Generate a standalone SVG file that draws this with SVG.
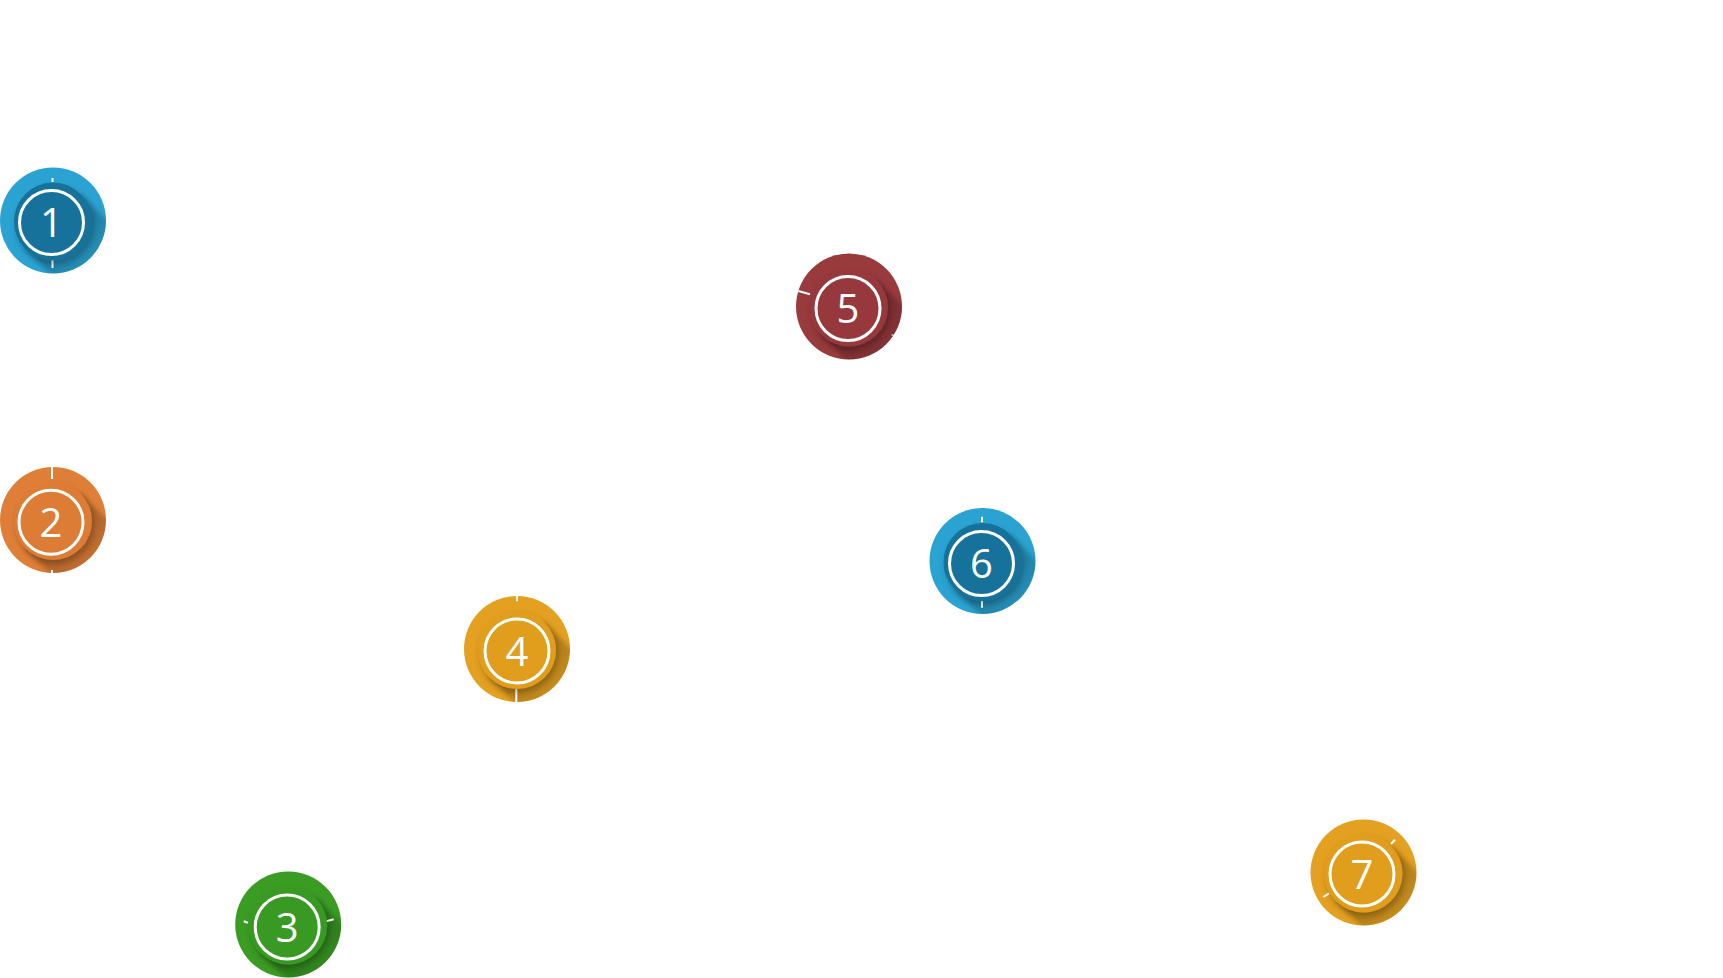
<svg xmlns="http://www.w3.org/2000/svg" width="1723" height="978" viewBox="0 0 1723 978">
<defs>
<style>
.o{stroke:none}
.blue .o{fill:#2aa3d2}.blue .d{fill:#13729b}
.orange .o{fill:#df7f37}.orange .d{fill:#dd7c34}
.green .o{fill:#3a9c23}.green .d{fill:#389a21}
.gold .o{fill:#e3a021}.gold .d{fill:#e19d1f}
.red .o{fill:#993a3d}.red .d{fill:#97393c}
.ring{fill:none;stroke:#fff;stroke-width:3}
.tick{stroke:#fff;stroke-width:2;stroke-linecap:butt}
.num{fill:#fff;font-family:"Open Sans","Liberation Sans",sans-serif;font-weight:400;font-size:40px;text-anchor:middle}
</style>
<clipPath id="clip"><circle cx="0" cy="0" r="53"/></clipPath>
<linearGradient id="ls" x1="0" y1="0" x2="1" y2="1">
<stop offset="0.24" stop-color="#000" stop-opacity="0.3"/>
<stop offset="0.8" stop-color="#000" stop-opacity="0"/>
</linearGradient>
<filter id="blur" x="-20%" y="-20%" width="140%" height="140%"><feGaussianBlur stdDeviation="2.5"/></filter>
<filter id="ds" x="-30%" y="-30%" width="170%" height="170%"><feDropShadow dx="2" dy="4" stdDeviation="3" flood-color="#000" flood-opacity="0.25"/></filter>
<path id="lsp" d="M27.6,-26.6 L87.6,33.4 L32.4,88.6 L-27.6,28.6 Z"/>
</defs>
<rect width="1723" height="978" fill="#fff"/>
<g id="connectors"/>

<g id="node-1" class="blue" transform="translate(53,220.5)">
<circle class="o" r="53"/>
<g clip-path="url(#clip)"><use href="#lsp" fill="url(#ls)" filter="url(#blur)"/></g>
<line class="tick" x1="-0.5" y1="-42.5" x2="-0.5" y2="-38.5"/>
<line class="tick" x1="-0.5" y1="39.5" x2="-0.5" y2="47.5"/>
<circle class="d" cx="0" cy="1" r="39" filter="url(#ds)"/>
<circle class="ring" cx="-1.5" cy="2" r="32"/>
<text class="num" x="-1.5" y="16.5">1</text>
</g>

<g id="node-2" class="orange" transform="translate(53,520)">
<circle class="o" r="53"/>
<g clip-path="url(#clip)"><use href="#lsp" fill="url(#ls)" filter="url(#blur)"/></g>
<line class="tick" x1="-1" y1="-53.5" x2="-1" y2="-41"/>
<line class="tick" x1="-1" y1="50" x2="-1" y2="54"/>
<circle class="d" cx="0" cy="1" r="39" filter="url(#ds)"/>
<circle class="ring" cx="-2" cy="2.2" r="32"/>
<text class="num" x="-2" y="16.7">2</text>
</g>

<g id="node-3" class="green" transform="translate(288.2,924.5)">
<circle class="o" r="53"/>
<g clip-path="url(#clip)"><use href="#lsp" fill="url(#ls)" filter="url(#blur)"/></g>
<line class="tick" x1="-44.5" y1="-3.3" x2="-40.2" y2="-1.7"/>
<line class="tick" x1="38.1" y1="-3.3" x2="45.5" y2="-5.3"/>
<circle class="d" cx="0" cy="1" r="39" filter="url(#ds)"/>
<circle class="ring" cx="-1" cy="2.5" r="32"/>
<text class="num" x="-1" y="17">3</text>
</g>

<g id="node-4" class="gold" transform="translate(517,649)">
<circle class="o" r="53"/>
<g clip-path="url(#clip)"><use href="#lsp" fill="url(#ls)" filter="url(#blur)"/></g>
<line class="tick" x1="0" y1="-53.5" x2="0" y2="-47.7"/>
<line class="tick" x1="-0.7" y1="39.7" x2="-0.7" y2="53.5"/>
<circle class="d" cx="0" cy="1" r="39" filter="url(#ds)"/>
<circle class="ring" cx="0" cy="2" r="32"/>
<text class="num" x="0" y="16.5">4</text>
</g>

<g id="node-5" class="red" transform="translate(849,306.5)">
<circle class="o" r="53"/>
<g clip-path="url(#clip)"><use href="#lsp" fill="url(#ls)" filter="url(#blur)"/></g>
<line class="tick" x1="-50.7" y1="-15.5" x2="-39" y2="-12.2"/>
<line class="tick" x1="42.7" y1="28" x2="46" y2="30" opacity="0.6"/>
<circle class="d" cx="0" cy="1" r="39" filter="url(#ds)"/>
<circle class="ring" cx="-1" cy="2" r="32"/>
<text class="num" x="-1" y="16.5">5</text>
</g>

<g id="node-6" class="blue" transform="translate(982.5,561)">
<circle class="o" r="53"/>
<g clip-path="url(#clip)"><use href="#lsp" fill="url(#ls)" filter="url(#blur)"/></g>
<line class="tick" x1="-0.5" y1="-44.3" x2="-0.5" y2="-38.7"/>
<line class="tick" x1="-0.5" y1="40" x2="-0.5" y2="46.7"/>
<circle class="d" cx="0" cy="1" r="39" filter="url(#ds)"/>
<circle class="ring" cx="-1" cy="2.5" r="32"/>
<text class="num" x="-1" y="17">6</text>
</g>

<g id="node-7" class="gold" transform="translate(1363.5,872.5)">
<circle class="o" r="53"/>
<g clip-path="url(#clip)"><use href="#lsp" fill="url(#ls)" filter="url(#blur)"/></g>
<line class="tick" x1="27.5" y1="-28.5" x2="31.5" y2="-32.8"/>
<line class="tick" x1="-40.2" y1="24.5" x2="-34.5" y2="20.8"/>
<circle class="d" cx="0" cy="1" r="39" filter="url(#ds)"/>
<circle class="ring" cx="-1.5" cy="1.5" r="32"/>
<text class="num" x="-1.5" y="16">7</text>
</g>
</svg>
